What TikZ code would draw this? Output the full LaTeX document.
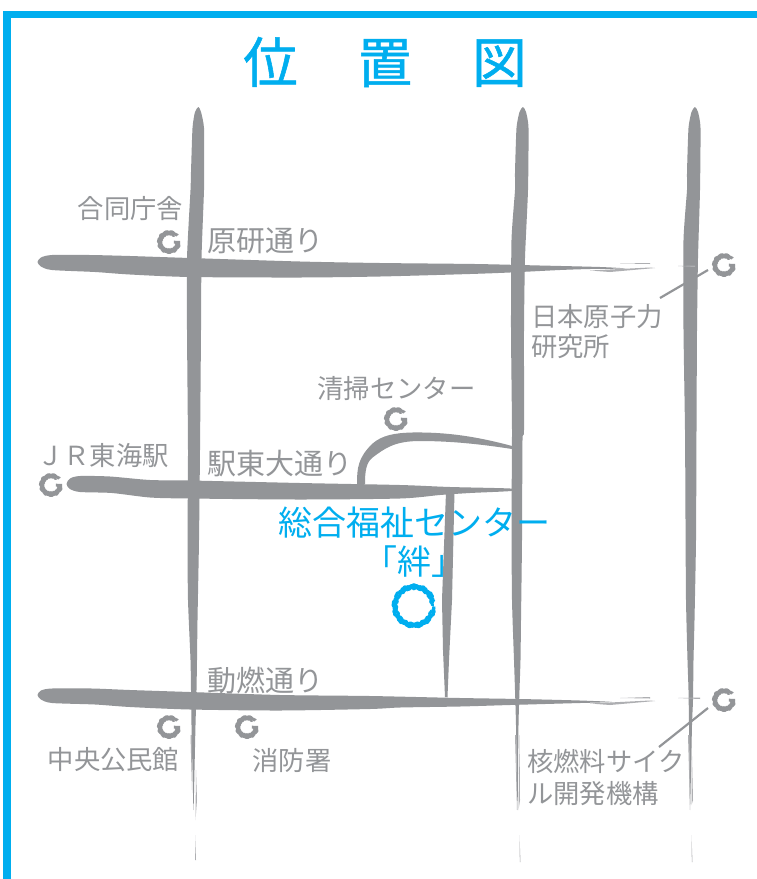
\documentclass[tikz,border=0pt]{standalone}
\usepackage{fontspec}
\setmainfont{Noto Sans CJK JP}
\newfontfamily\titlefont[FakeBold=1.0]{Noto Sans CJK JP}
\definecolor{brandcyan}{HTML}{00AEEF}
\definecolor{roadgray}{HTML}{939598}
\tikzset{
  road/.style={fill=roadgray,draw=none},
  wisp/.style={fill=roadgray!75,draw=none},
  label/.style={text=roadgray,inner sep=0pt,font=\fontsize{26.3}{28}\selectfont},
  roadlabel/.style={text=roadgray,inner sep=0pt,font=\fontsize{29}{30}\selectfont},
  bluelabel/.style={text=brandcyan,inner sep=0pt,font=\fontsize{34}{36}\selectfont},
  leader/.style={draw=roadgray,line width=2.2pt},
  ringspot/.style={circle,inner sep=0pt,minimum size=24pt},
}
\newcommand{\inkring}[1]{%
  \begin{scope}[shift={(#1.center)}]
    \draw[roadgray,line width=3pt,line join=round] plot[domain=38:358,samples=90,smooth] ({(10.1+.45*sin(11*\x)+.3*sin(29*\x))*cos(\x)},{-(10.1+.45*sin(11*\x)+.3*sin(29*\x))*sin(\x)});
    \draw[roadgray,line width=2.6pt,line join=round] plot[domain=52:345,samples=90,smooth] ({(8.1+.4*sin(17*\x)+.3*sin(37*\x))*cos(\x)},{-(8.1+.4*sin(17*\x)+.3*sin(37*\x))*sin(\x)});
    \draw[roadgray,line width=3pt] (11,0.4) -- (4.8,0.2);
  \end{scope}
}
\begin{document}
\begin{tikzpicture}[x=1pt,y=-1pt]
\useasboundingbox (0,0) rectangle (757,879);
\fill[white] (0,0) rectangle (757,879);
% frame
\fill[brandcyan] (3,11) rectangle (757,18);
\fill[brandcyan] (3,11) rectangle (10.5,879);
% title
\node[text=brandcyan,inner sep=0pt,font=\titlefont\fontsize{54.5}{56}\selectfont] (title) at (385,62) {位\hspace{60pt}置\hspace{60pt}図};
% vertical roads
\fill[road] plot[smooth cycle,tension=.35] coordinates {(198.5,107) (201,112) (204,128) (204,170) (204,190) (201.5,258) (201,330) (200,450) (199,540) (197.5,620) (197,660) (196.5,690) (195.5,725) (194.5,770) (193.5,810) (192.5,770) (191.5,725) (191,690) (190.5,660) (188,600) (187.5,540) (188,450) (187,330) (187,258) (190.5,190) (191,172) (192.5,128) (195,112)};
\fill[road] plot[smooth cycle,tension=.35] coordinates {(523,107) (526,112) (528.5,128) (528,190) (525,258) (524,330) (524,430) (522.5,440) (522,540) (521,620) (520.5,660) (519.5,690) (518.5,725) (517.5,810) (516,725) (515,690) (514,660) (512,600) (511.5,520) (512,430) (511,330) (511.5,240) (515,190) (515,172) (516.5,128) (519.5,112)};
\fill[road] plot[smooth cycle,tension=.35] coordinates {(695,107) (698,112) (700.5,128) (700,190) (698,258) (697,330) (696.5,430) (696,540) (694.5,620) (693.5,660) (693,700) (692,725) (690,810) (689,725) (688.5,690) (687.5,660) (686,600) (685.5,520) (685,430) (683.5,330) (683.5,240) (687,190) (687,172) (688.5,128) (691.5,112)};
% thin side strokes and lower dashes
\fill[wisp] (190.5,735) -- (192,790) -- (192,735) -- cycle;
\fill[wisp] (196,770) -- (197,800) -- (195.5,820) -- cycle;
\fill[wisp] (515,735) -- (517,810) -- (516.5,735) -- cycle;
\fill[wisp] (519.5,735) -- (520,800) -- (518.5,810) -- cycle;
\fill[wisp] (688,735) -- (690,805) -- (689.5,735) -- cycle;
\fill[wisp] (691.5,735) -- (693,800) -- (691.5,805) -- cycle;
\fill[wisp] (195,835) -- (196,860) -- (195.2,860) -- cycle;
\fill[wisp] (519.5,835) -- (520.5,862) -- (519.8,862) -- cycle;
\fill[wisp] (691.5,835) -- (692.5,862) -- (691.8,862) -- cycle;
% horizontal roads
\fill[road] plot[smooth cycle,tension=.45] coordinates {(37.5,262) (41,257.5) (52,255) (90,255) (130,256) (190,258) (300,261.5) (380,263) (475,264) (540,265.5) (600,267) (625,268.5) (590,269) (560,270) (510,272.5) (470,274) (380,276.5) (300,277.5) (190,277) (130,274.5) (95,272) (52,270) (41,266.5)};
\fill[road] plot[smooth cycle,tension=.45] coordinates {(66.5,484) (70,478.5) (80,476) (110,476.5) (150,480) (190,480.5) (300,483) (400,485) (450,487) (510,488.5) (511,491) (470,493) (440,495) (400,498.5) (300,499.5) (190,498.5) (150,497.5) (112,493) (80,492) (70,489)};
\fill[road] plot[smooth cycle,tension=.45] coordinates {(37.5,695) (41,690.5) (52,688.5) (92,688.5) (130,690) (190,692) (280,695) (370,696) (460,698) (520,699) (580,700.5) (612,702) (580,703) (510,705) (460,706.5) (400,707.5) (370,709) (280,710.5) (190,709.5) (130,707) (95,704.5) (52,703) (41,699.5)};
% wisps at far ends of horizontals
\fill[wisp] (590,270.5) -- (650,267.5) -- (655,268) -- (610,272) -- cycle;
\fill[wisp] (620,263.5) -- (650,263) -- (650,264) -- cycle;
\fill[wisp] (678,266) -- (695,265.5) -- (695,267) -- cycle;
\fill[wisp] (590,703.5) -- (650,700.5) -- (655,701) -- (610,705) -- cycle;
\fill[wisp] (620,698) -- (650,697) -- (650,698.5) -- cycle;
\fill[wisp] (678,698) -- (700,697.5) -- (700,699) -- cycle;
% curved branch
\fill[road] (357,484) .. controls (357,468) and (358,458) .. (372,444) .. controls (382,435) and (395,433) .. (412,432.5) .. controls (445,432) and (475,436) .. (512,446) -- (512,449) .. controls (480,444) and (450,441) .. (420,441) .. controls (395,441) and (385,448) .. (372,458) .. controls (366,463) and (365,472) .. (365,484) -- cycle;
% south branch
\fill[road] (446,492) -- (454.5,492) -- (452,600) -- (449,660) -- (447.5,697) -- (445,697) -- (443,650) -- (442,600) -- cycle;
% leaders
\coordinate (genkenline) at (708,270);
\coordinate (genkenend) at (660,298);
\coordinate (cycleline) at (708,708);
\coordinate (cycleend) at (659,747);
\draw[leader] (genkenline) -- (genkenend);
\draw[leader] (cycleline) -- (cycleend);
% ring marks
\node[ringspot] (rgodo) at (169,242) {}; \inkring{rgodo}
\node[ringspot] (rgenken) at (724,265) {}; \inkring{rgenken}
\node[ringspot] (rseiso) at (396,419) {}; \inkring{rseiso}
\node[ringspot] (rjr) at (51,485) {}; \inkring{rjr}
\node[ringspot] (rchuo) at (169,727) {}; \inkring{rchuo}
\node[ringspot] (rshobo) at (247,727) {}; \inkring{rshobo}
\node[ringspot] (rcycle) at (724,700) {}; \inkring{rcycle}
\node[circle,inner sep=0pt,minimum size=44pt] (rkizuna) at (414,606) {};
\begin{scope}[shift={(rkizuna.center)}]
  \draw[brandcyan,line width=3.2pt,line join=round] plot[domain=12:358,samples=140,smooth] ({(20.3+.6*sin(13*\x)+.4*sin(41*\x))*cos(\x)},{-(20.3+.6*sin(13*\x)+.4*sin(41*\x))*sin(\x)});
  \draw[brandcyan,line width=3pt,line join=round] plot[domain=0:345,samples=140,smooth] ({(18+.6*sin(19*\x)+.4*sin(47*\x))*cos(\x)},{-(18+.6*sin(19*\x)+.4*sin(47*\x))*sin(\x)});
\end{scope}
% labels
\node[label] (lgodo) at (130.5,209) {合同庁舎};
\node[roadlabel] (lgenkenst) at (265,241) {原研通り};
\node[label,anchor=west] (lgenken1) at (531,317) {日本原子力};
\node[label,anchor=west] (lgenken2) at (531,347) {研究所};
\node[label] (lseiso) at (396.5,389) {清掃センター};
\node[label] (ljr) at (103,456) {ＪＲ東海駅};
\node[roadlabel] (lekihigashi) at (279.5,464) {駅東大通り};
\node[bluelabel] (lsogo) at (414.5,523) {総合福祉センター};
\node[bluelabel] (lkizuna) at (414.5,562) {「絆」};
\node[roadlabel] (ldonen) at (265,680) {動燃通り};
\node[label] (lchuo) at (113.5,760) {中央公民館};
\node[label] (lshobo) at (292,760) {消防署};
\node[label,anchor=west] (lcycle1) at (527,761) {核燃料サイク};
\node[label,anchor=west] (lcycle2) at (527,794) {ル開発機構};
\end{tikzpicture}
\end{document}
